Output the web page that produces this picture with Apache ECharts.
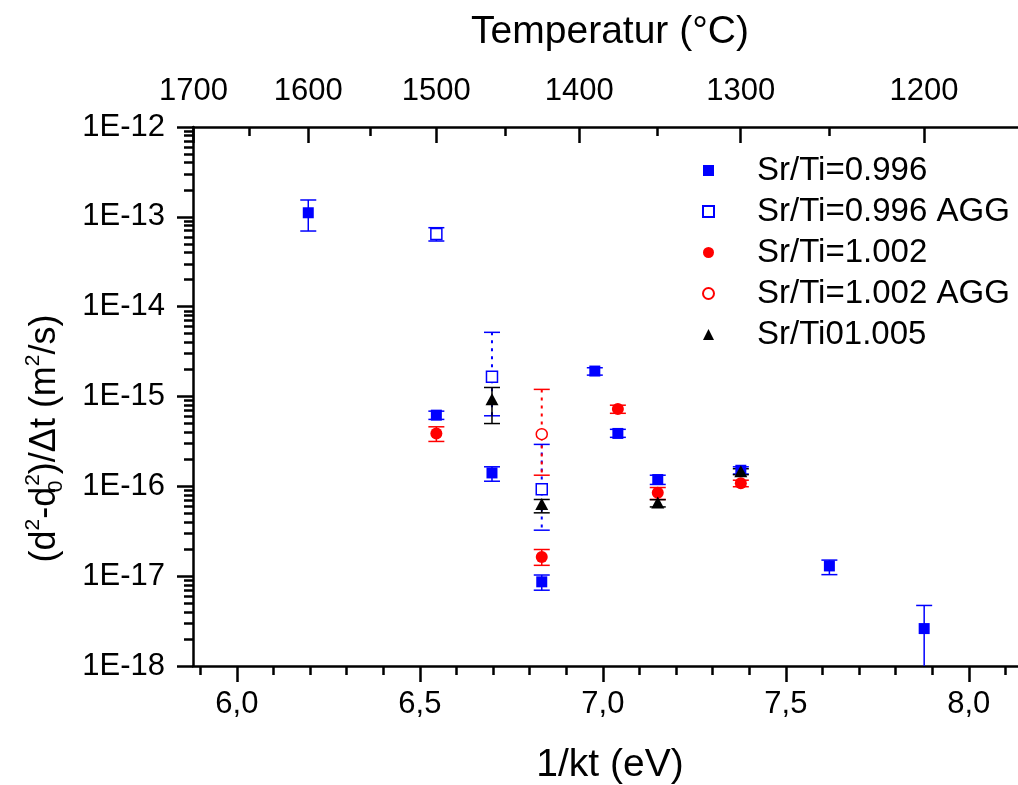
<!DOCTYPE html>
<html>
<head>
<meta charset="utf-8">
<script src="https://cdn.jsdelivr.net/npm/echarts@6/dist/echarts.min.js"></script>
<style>
html,body{margin:0;padding:0;background:#fff;}
#c{width:1018px;height:785px;}
</style>
</head>
<body>
<div id="c"></div>
<script>
// ---------------- data ----------------
// Sr/Ti=0.996 (filled blue squares)
const x0996    = [6.195, 6.545, 6.697, 6.833, 6.978, 7.041, 7.150, 7.377, 7.619, 7.878];
const y0996    = [1.11e-13, 6.2e-16, 1.41e-16, 8.65e-18, 1.92e-15, 3.88e-16, 1.19e-16, 1.51e-16, 1.30e-17, 2.61e-18];
const hi0996   = [1.54e-13, 6.87e-16, 1.65e-16, 1.03e-17, 2.09e-15, 4.31e-16, 1.33e-16, 1.65e-16, 1.51e-17, 4.72e-18];
const lo0996   = [6.95e-14, 5.56e-16, 1.14e-16, 6.98e-18, 1.73e-15, 3.51e-16, 1.05e-16, 1.37e-16, 1.04e-17, 5.0e-19];
const dash0996 = [0, 0, 0, 0, 0, 0, 0, 0, 0, 0];
// Sr/Ti=0.996 AGG (open blue squares)
const x0996A    = [6.545, 6.697, 6.833];
const y0996A    = [6.43e-14, 1.66e-15, 9.25e-17];
const hi0996A   = [7.57e-14, 5.18e-15, 2.93e-16];
const lo0996A   = [5.38e-14, 6.1e-16, 3.25e-17];
const dash0996A = [0, 1, 1];
// Sr/Ti=1.002 (filled red circles)
const x1002    = [6.545, 6.833, 7.041, 7.150, 7.377];
const y1002    = [3.88e-16, 1.63e-17, 7.24e-16, 8.47e-17, 1.08e-16];
const hi1002   = [4.6e-16, 1.98e-17, 8.0e-16, 9.7e-17, 1.17e-16];
const lo1002   = [3.16e-16, 1.32e-17, 6.5e-16, 7.15e-17, 9.9e-17];
const dash1002 = [0, 0, 0, 0, 0];
// Sr/Ti=1.002 AGG (open red circle)
const x1002A    = [6.833];
const y1002A    = [3.81e-16];
const hi1002A   = [1.2e-15];
const lo1002A   = [1.33e-16];
const dash1002A = [1];
// Sr/Ti01.005 (black triangles)
const x1005    = [6.697, 6.833, 7.150, 7.377];
const y1005    = [9.29e-16, 6.34e-17, 6.6e-17, 1.47e-16];
const hi1005   = [1.26e-15, 7.14e-17, 7.1e-17, 1.57e-16];
const lo1005   = [5.0e-16, 5.07e-17, 5.9e-17, 1.35e-16];
const dash1005 = [0, 0, 0, 0];

const seriesNames = ['Sr/Ti=0.996', 'Sr/Ti=0.996 AGG', 'Sr/Ti=1.002', 'Sr/Ti=1.002 AGG', 'Sr/Ti01.005'];

// ---------------- axes / ticks ----------------
const X_MIN = 5.88, X_MAX = 8.159;
const xMajorTicks = [6.0, 6.5, 7.0, 7.5, 8.0];
const xMinorTicks = [5.9, 6.1, 6.2, 6.3, 6.4, 6.6, 6.7, 6.8, 6.9, 7.1, 7.2, 7.3, 7.4, 7.6, 7.7, 7.8, 7.9, 8.1];
const tempMajorTicks = [1700, 1600, 1500, 1400, 1300, 1200];
const tempMinorTicks = [1650, 1550, 1450, 1350, 1250];
const yDecades = [-18, -17, -16, -15, -14, -13, -12];
const yMinorFactors = [2, 3, 4, 5, 6, 7, 8, 9];
const Y_MIN = -18, Y_MAX = -12;
const K_B = 8.617333e-5;
const toInvKT = T => 1 / (K_B * (T + 273.15));
const fromInvKT = v => 1 / (K_B * v) - 273.15;

const yMinorTicks = [];
yDecades.slice(0, -1).forEach(d => yMinorFactors.forEach(f => yMinorTicks.push(d + Math.log10(f))));

const FONT = "'Liberation Sans', Arial, Helvetica, sans-serif";
const BLACK = '#000000', BLUE = '#0000ff', RED = '#ff0000';

function pts(xs, ys) { return xs.map((x, i) => [x, Math.log10(ys[i])]); }
function errs(xs, ys, lo, hi, dash) {
  return xs.map((x, i) => [x, Math.log10(ys[i]), Math.log10(lo[i]), Math.log10(hi[i]), dash[i]]);
}

function errRender(color) {
  return function (params, api) {
    const x = api.value(0), lo = api.value(2), hi = api.value(3), dashed = api.value(4);
    const pHi = api.coord([x, hi]);
    const pLo = api.coord([x, Math.max(lo, Y_MIN)]);
    const cap = 8;
    const base = { stroke: color, lineWidth: 1.5, fill: null };
    const vStyle = dashed ? Object.assign({}, base, { lineDash: [3, 5], lineWidth: 2 }) : base;
    const children = [
      { type: 'line', shape: { x1: pHi[0], y1: pHi[1], x2: pLo[0], y2: pLo[1] }, style: vStyle },
      { type: 'line', shape: { x1: pHi[0] - cap, y1: pHi[1], x2: pHi[0] + cap, y2: pHi[1] }, style: base }
    ];
    if (lo >= Y_MIN) {
      children.push({ type: 'line', shape: { x1: pLo[0] - cap, y1: pLo[1], x2: pLo[0] + cap, y2: pLo[1] }, style: base });
    }
    return { type: 'group', children: children };
  };
}

function errSeries(id, color, data) {
  return {
    type: 'custom', name: id, xAxisIndex: 0, yAxisIndex: 0, z: 2,
    renderItem: errRender(color), data: data, encode: { x: 0, y: 1 }, silent: true
  };
}

const lineStyleAxis = { color: BLACK, width: 2.5 };
const tickStyle = { color: BLACK, width: 2.5 };

const chart = echarts.init(document.getElementById('c'), null, { renderer: 'canvas' });
chart.setOption({
  animation: false,
  backgroundColor: '#ffffff',
  grid: { left: 193, top: 127, right: -9, bottom: 119, containLabel: false, outerBoundsMode: 'none' },
  legend: {
    data: seriesNames, orient: 'vertical', left: 702, top: 150,
    itemWidth: 11, itemHeight: 11, itemGap: 0, padding: 0, selectedMode: false,
    textStyle: { fontFamily: FONT, fontSize: 33, color: BLACK, lineHeight: 41, padding: [0, 0, 0, 38] }
  },
  xAxis: [
    {
      type: 'value', position: 'bottom', min: X_MIN, max: X_MAX,
      axisLine: { show: true, onZero: false, lineStyle: lineStyleAxis },
      axisTick: { show: true, inside: false, length: 16, customValues: xMajorTicks, lineStyle: tickStyle },
      axisLabel: {
        customValues: xMajorTicks, margin: 23, fontSize: 31, fontFamily: FONT, color: BLACK,
        formatter: v => v.toFixed(1).replace('.', ',')
      },
      splitLine: { show: false },
      name: '1/kt (eV)', nameLocation: 'middle', nameGap: 80, nameMoveOverlap: false,
      nameTextStyle: { fontSize: 39, fontFamily: FONT, color: BLACK }
    },
    {
      type: 'value', position: 'top', min: X_MIN, max: X_MAX,
      axisLine: { show: true, onZero: false, lineStyle: lineStyleAxis },
      axisTick: { show: true, inside: true, length: 16, customValues: tempMajorTicks.map(toInvKT), lineStyle: tickStyle },
      axisLabel: {
        customValues: tempMajorTicks.map(toInvKT), margin: 20, fontSize: 31, fontFamily: FONT, color: BLACK,
        formatter: v => String(Math.round(fromInvKT(v)))
      },
      splitLine: { show: false },
      name: 'Temperatur (°C)', nameLocation: 'middle', nameGap: 75, nameMoveOverlap: false,
      nameTextStyle: { fontSize: 39, fontFamily: FONT, color: BLACK }
    },
    {
      type: 'value', position: 'bottom', min: X_MIN, max: X_MAX,
      axisLine: { show: false, onZero: false },
      axisTick: { show: true, inside: false, length: 9, customValues: xMinorTicks, lineStyle: tickStyle },
      axisLabel: { show: false }, splitLine: { show: false }
    },
    {
      type: 'value', position: 'top', min: X_MIN, max: X_MAX,
      axisLine: { show: false, onZero: false },
      axisTick: { show: true, inside: true, length: 9, customValues: tempMinorTicks.map(toInvKT), lineStyle: tickStyle },
      axisLabel: { show: false }, splitLine: { show: false }
    }
  ],
  yAxis: [
    {
      type: 'value', position: 'left', min: Y_MIN, max: Y_MAX, interval: 1,
      axisLine: { show: true, onZero: false, lineStyle: lineStyleAxis },
      axisTick: { show: true, inside: false, length: 16, customValues: yDecades, lineStyle: tickStyle },
      axisLabel: {
        customValues: yDecades, margin: 28, fontSize: 31, fontFamily: FONT, color: BLACK,
        formatter: v => '1E' + Math.round(v)
      },
      splitLine: { show: false },
      name: '{n|(d}{sup|2}{n|-d}{sub|0}{sup|2}{n|)/Δt (m}{sup|2}{n|/s)}',
      nameLocation: 'middle', nameRotate: 90, nameGap: 126, nameMoveOverlap: false,
      nameTextStyle: {
        fontSize: 36, fontFamily: FONT, color: BLACK, padding: [0, 84, 0, 0],
        rich: {
          n: { fontSize: 36, fontFamily: FONT, color: BLACK, lineHeight: 44 },
          sup: { fontSize: 21, fontFamily: FONT, color: BLACK, lineHeight: 22, verticalAlign: 'top' },
          sub: { fontSize: 21, fontFamily: FONT, color: BLACK, lineHeight: 22, verticalAlign: 'bottom', width: 1 }
        }
      }
    },
    {
      type: 'value', position: 'left', min: Y_MIN, max: Y_MAX,
      axisLine: { show: false, onZero: false },
      axisTick: { show: true, inside: false, length: 9, customValues: yMinorTicks, lineStyle: tickStyle },
      axisLabel: { show: false }, splitLine: { show: false }
    }
  ],
  series: [
    errSeries('e0996', BLUE, errs(x0996, y0996, lo0996, hi0996, dash0996)),
    errSeries('e0996A', BLUE, errs(x0996A, y0996A, lo0996A, hi0996A, dash0996A)),
    errSeries('e1002', RED, errs(x1002, y1002, lo1002, hi1002, dash1002)),
    errSeries('e1002A', RED, errs(x1002A, y1002A, lo1002A, hi1002A, dash1002A)),
    errSeries('e1005', BLACK, errs(x1005, y1005, lo1005, hi1005, dash1005)),
    {
      type: 'scatter', name: seriesNames[0], data: pts(x0996, y0996), z: 3,
      symbol: 'rect', symbolSize: 11, itemStyle: { color: BLUE, opacity: 1 }
    },
    {
      type: 'scatter', name: seriesNames[1], data: pts(x0996A, y0996A), z: 3,
      symbol: 'rect', symbolSize: 11, itemStyle: { color: '#ffffff', borderColor: BLUE, borderWidth: 1.5, opacity: 1 }
    },
    {
      type: 'scatter', name: seriesNames[2], data: pts(x1002, y1002), z: 3,
      symbol: 'circle', symbolSize: 12, itemStyle: { color: RED, opacity: 1 }
    },
    {
      type: 'scatter', name: seriesNames[3], data: pts(x1002A, y1002A), z: 3,
      symbol: 'circle', symbolSize: 11, itemStyle: { color: '#ffffff', borderColor: RED, borderWidth: 1.5, opacity: 1 }
    },
    {
      type: 'scatter', name: seriesNames[4], data: pts(x1005, y1005), z: 3,
      symbol: 'triangle', symbolSize: [13, 12], itemStyle: { color: BLACK, opacity: 1 }
    }
  ]
});
</script>
</body>
</html>
